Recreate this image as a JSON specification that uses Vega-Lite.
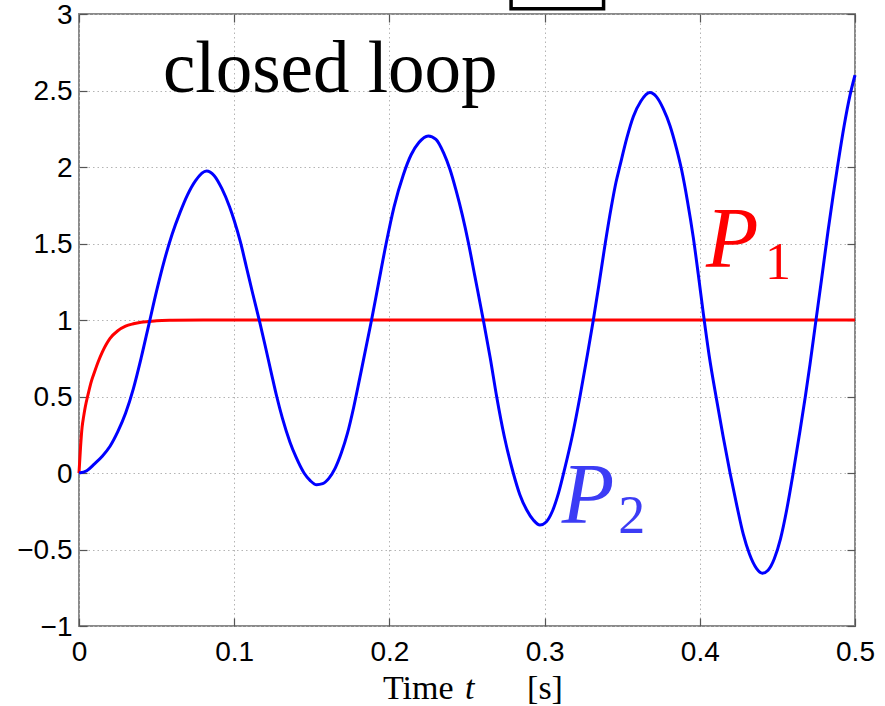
{
  "$schema": "https://vega.github.io/schema/vega-lite/v6.json",
  "width": 776,
  "height": 612,
  "autosize": "none",
  "padding": {"left": 79, "top": 14, "right": 30, "bottom": 80},
  "background": "white",
  "config": {
    "view": {"stroke": "#8a8a8a", "strokeWidth": 2},
    "axis": {
      "labelFont": "Liberation Sans",
      "labelFontSize": 28,
      "labelColor": "black",
      "tickColor": "#555555",
      "tickWidth": 1.2,
      "tickSize": -8,
      "domain": false,
      "labelFlush": false,
      "labelOverlap": false,
      "gridColor": "#b4b4b4",
      "gridDash": [1.5, 3],
      "gridWidth": 1,
      "title": null
    }
  },
  "datasets": {
    "p1": [
      {"t": 0, "v": 0}, {"t": 0.001, "v": 0.17}, {"t": 0.002, "v": 0.3}, {"t": 0.003, "v": 0.37},
      {"t": 0.004, "v": 0.43}, {"t": 0.006, "v": 0.52}, {"t": 0.008, "v": 0.6}, {"t": 0.01, "v": 0.66},
      {"t": 0.0125, "v": 0.73}, {"t": 0.015, "v": 0.79}, {"t": 0.0175, "v": 0.84}, {"t": 0.02, "v": 0.88},
      {"t": 0.025, "v": 0.93}, {"t": 0.03, "v": 0.96}, {"t": 0.035, "v": 0.975}, {"t": 0.04, "v": 0.985},
      {"t": 0.045, "v": 0.99}, {"t": 0.05, "v": 0.995}, {"t": 0.06, "v": 0.998}, {"t": 0.08, "v": 1},
      {"t": 0.5, "v": 1}
    ],
    "p2": [
      {"t": 0, "v": 0}, {"t": 0.005, "v": 0.015}, {"t": 0.01, "v": 0.06}, {"t": 0.015, "v": 0.11},
      {"t": 0.02, "v": 0.175}, {"t": 0.025, "v": 0.27}, {"t": 0.03, "v": 0.39}, {"t": 0.035, "v": 0.55},
      {"t": 0.04, "v": 0.75}, {"t": 0.045, "v": 0.97}, {"t": 0.05, "v": 1.19}, {"t": 0.055, "v": 1.39},
      {"t": 0.06, "v": 1.56}, {"t": 0.065, "v": 1.7}, {"t": 0.07, "v": 1.82}, {"t": 0.075, "v": 1.91},
      {"t": 0.0822, "v": 1.974},
      {"t": 0.087, "v": 1.945}, {"t": 0.092, "v": 1.86}, {"t": 0.097, "v": 1.74}, {"t": 0.1, "v": 1.65},
      {"t": 0.104, "v": 1.51}, {"t": 0.108, "v": 1.34}, {"t": 0.112, "v": 1.17}, {"t": 0.1166, "v": 0.98},
      {"t": 0.12, "v": 0.83}, {"t": 0.124, "v": 0.65}, {"t": 0.1274, "v": 0.5}, {"t": 0.131, "v": 0.36},
      {"t": 0.136, "v": 0.2}, {"t": 0.14, "v": 0.1}, {"t": 0.145, "v": 0.0}, {"t": 0.149, "v": -0.05},
      {"t": 0.1531, "v": -0.077},
      {"t": 0.157, "v": -0.07}, {"t": 0.161, "v": -0.035}, {"t": 0.165, "v": 0.03}, {"t": 0.169, "v": 0.13},
      {"t": 0.173, "v": 0.26}, {"t": 0.177, "v": 0.43}, {"t": 0.181, "v": 0.625}, {"t": 0.1885, "v": 1.0},
      {"t": 0.193, "v": 1.24}, {"t": 0.198, "v": 1.505}, {"t": 0.203, "v": 1.74}, {"t": 0.209, "v": 1.95},
      {"t": 0.214, "v": 2.08}, {"t": 0.219, "v": 2.16}, {"t": 0.225, "v": 2.203},
      {"t": 0.23, "v": 2.18}, {"t": 0.235, "v": 2.09}, {"t": 0.239, "v": 1.985}, {"t": 0.243, "v": 1.845},
      {"t": 0.247, "v": 1.685}, {"t": 0.2509, "v": 1.505}, {"t": 0.255, "v": 1.29}, {"t": 0.2605, "v": 1.0},
      {"t": 0.265, "v": 0.75}, {"t": 0.2691, "v": 0.5}, {"t": 0.274, "v": 0.24}, {"t": 0.2798, "v": 0.0},
      {"t": 0.284, "v": -0.14}, {"t": 0.2884, "v": -0.24}, {"t": 0.293, "v": -0.31}, {"t": 0.297, "v": -0.34},
      {"t": 0.301, "v": -0.32}, {"t": 0.305, "v": -0.25}, {"t": 0.309, "v": -0.13}, {"t": 0.313, "v": 0.03},
      {"t": 0.318, "v": 0.25}, {"t": 0.3228, "v": 0.5}, {"t": 0.327, "v": 0.74}, {"t": 0.3314, "v": 1.0},
      {"t": 0.335, "v": 1.23}, {"t": 0.3389, "v": 1.49}, {"t": 0.343, "v": 1.74}, {"t": 0.346, "v": 1.9},
      {"t": 0.3486, "v": 2.01}, {"t": 0.353, "v": 2.19}, {"t": 0.3572, "v": 2.33}, {"t": 0.362, "v": 2.43},
      {"t": 0.3679, "v": 2.487},
      {"t": 0.372, "v": 2.46}, {"t": 0.3765, "v": 2.38}, {"t": 0.3808, "v": 2.27}, {"t": 0.385, "v": 2.12},
      {"t": 0.3883, "v": 1.98}, {"t": 0.392, "v": 1.78}, {"t": 0.3958, "v": 1.54}, {"t": 0.399, "v": 1.3},
      {"t": 0.4023, "v": 1.04}, {"t": 0.406, "v": 0.77}, {"t": 0.4108, "v": 0.48}, {"t": 0.415, "v": 0.24},
      {"t": 0.4195, "v": 0.0}, {"t": 0.424, "v": -0.22}, {"t": 0.428, "v": -0.4}, {"t": 0.432, "v": -0.53},
      {"t": 0.4366, "v": -0.625}, {"t": 0.4403, "v": -0.655},
      {"t": 0.444, "v": -0.635}, {"t": 0.448, "v": -0.56}, {"t": 0.452, "v": -0.43}, {"t": 0.456, "v": -0.24},
      {"t": 0.46, "v": -0.01}, {"t": 0.464, "v": 0.24}, {"t": 0.468, "v": 0.5}, {"t": 0.471, "v": 0.71},
      {"t": 0.4742, "v": 0.95}, {"t": 0.4785, "v": 1.27}, {"t": 0.4826, "v": 1.58}, {"t": 0.486, "v": 1.82},
      {"t": 0.489, "v": 2.02}, {"t": 0.493, "v": 2.27}, {"t": 0.4968, "v": 2.47}, {"t": 0.5, "v": 2.6}
    ]
  },
  "resolve": {"axis": {"x": "independent", "y": "independent"}},
  "layer": [
    {
      "data": {"name": "p1"},
      "mark": {"type": "line", "color": "#ff0000", "strokeWidth": 3, "interpolate": "monotone"},
      "encoding": {
        "x": {"field": "t", "type": "quantitative", "scale": {"domain": [0, 0.5], "nice": false, "zero": false},
              "axis": {"orient": "bottom", "values": [0, 0.1, 0.2, 0.3, 0.4, 0.5], "format": "~g", "grid": true, "labelPadding": 20}},
        "y": {"field": "v", "type": "quantitative", "scale": {"domain": [-1, 3], "nice": false, "zero": false},
              "axis": {"orient": "left", "values": [-1, -0.5, 0, 0.5, 1, 1.5, 2, 2.5, 3], "format": "~g", "grid": true, "labelPadding": 15, "labelOffset": 1}}
      }
    },
    {
      "data": {"name": "p2"},
      "mark": {"type": "line", "color": "#0000ff", "strokeWidth": 3, "interpolate": "monotone"},
      "encoding": {
        "x": {"field": "t", "type": "quantitative", "scale": {"domain": [0, 0.5], "nice": false, "zero": false},
              "axis": {"orient": "top", "values": [0, 0.1, 0.2, 0.3, 0.4, 0.5], "labels": false, "grid": false}},
        "y": {"field": "v", "type": "quantitative", "scale": {"domain": [-1, 3], "nice": false, "zero": false},
              "axis": {"orient": "right", "values": [-1, -0.5, 0, 0.5, 1, 1.5, 2, 2.5, 3], "labels": false, "grid": false}}
      }
    },
    {
      "data": {"values": [{"t": 0.2784, "t2": 0.338, "v": 3.035, "v2": 3.25}]},
      "mark": {"type": "rect", "fill": "white", "fillOpacity": 0, "stroke": "black", "strokeWidth": 3.5},
      "encoding": {
        "x": {"field": "t", "type": "quantitative", "scale": {"domain": [0, 0.5], "nice": false, "zero": false}, "axis": null},
        "x2": {"field": "t2"},
        "y": {"field": "v", "type": "quantitative", "scale": {"domain": [-1, 3], "nice": false, "zero": false}, "axis": null},
        "y2": {"field": "v2"}
      }
    },
    {
      "data": {"values": [{"t": 0.0541, "v": 2.492, "label": "closed loop"}]},
      "mark": {"type": "text", "font": "Liberation Serif", "fontSize": 73, "align": "left", "baseline": "alphabetic", "color": "black"},
      "encoding": {
        "x": {"field": "t", "type": "quantitative", "scale": {"domain": [0, 0.5], "nice": false, "zero": false}, "axis": null},
        "y": {"field": "v", "type": "quantitative", "scale": {"domain": [-1, 3], "nice": false, "zero": false}, "axis": null},
        "text": {"field": "label"}
      }
    },
    {
      "data": {"values": [{"t": 0.404, "v": 1.348, "label": "P"}]},
      "mark": {"type": "text", "font": "Liberation Serif", "fontStyle": "italic", "fontSize": 86, "align": "left", "baseline": "alphabetic", "color": "#ff0000"},
      "encoding": {
        "x": {"field": "t", "type": "quantitative", "scale": {"domain": [0, 0.5], "nice": false, "zero": false}, "axis": null},
        "y": {"field": "v", "type": "quantitative", "scale": {"domain": [-1, 3], "nice": false, "zero": false}, "axis": null},
        "text": {"field": "label"}
      }
    },
    {
      "data": {"values": [{"t": 0.442, "v": 1.268, "label": "1"}]},
      "mark": {"type": "text", "font": "Liberation Serif", "fontSize": 52, "align": "left", "baseline": "alphabetic", "color": "#ff0000"},
      "encoding": {
        "x": {"field": "t", "type": "quantitative", "scale": {"domain": [0, 0.5], "nice": false, "zero": false}, "axis": null},
        "y": {"field": "v", "type": "quantitative", "scale": {"domain": [-1, 3], "nice": false, "zero": false}, "axis": null},
        "text": {"field": "label"}
      }
    },
    {
      "data": {"values": [{"t": 0.311, "v": -0.329, "label": "P"}]},
      "mark": {"type": "text", "font": "Liberation Serif", "fontStyle": "italic", "fontSize": 86, "align": "left", "baseline": "alphabetic", "color": "#3c3cf5"},
      "encoding": {
        "x": {"field": "t", "type": "quantitative", "scale": {"domain": [0, 0.5], "nice": false, "zero": false}, "axis": null},
        "y": {"field": "v", "type": "quantitative", "scale": {"domain": [-1, 3], "nice": false, "zero": false}, "axis": null},
        "text": {"field": "label"}
      }
    },
    {
      "data": {"values": [{"t": 0.3475, "v": -0.392, "label": "2"}]},
      "mark": {"type": "text", "font": "Liberation Serif", "fontSize": 54, "align": "left", "baseline": "alphabetic", "color": "#3c3cf5"},
      "encoding": {
        "x": {"field": "t", "type": "quantitative", "scale": {"domain": [0, 0.5], "nice": false, "zero": false}, "axis": null},
        "y": {"field": "v", "type": "quantitative", "scale": {"domain": [-1, 3], "nice": false, "zero": false}, "axis": null},
        "text": {"field": "label"}
      }
    },
    {
      "data": {"values": [{"t": 0.1959, "v": -1.477, "label": "Time"}, {"t": 0.2887, "v": -1.477, "label": "[s]"}]},
      "mark": {"type": "text", "font": "Liberation Serif", "fontSize": 34, "align": "left", "baseline": "alphabetic", "color": "black"},
      "encoding": {
        "x": {"field": "t", "type": "quantitative", "scale": {"domain": [0, 0.5], "nice": false, "zero": false}, "axis": null},
        "y": {"field": "v", "type": "quantitative", "scale": {"domain": [-1, 3], "nice": false, "zero": false}, "axis": null},
        "text": {"field": "label"}
      }
    },
    {
      "data": {"values": [{"t": 0.2487, "v": -1.477, "label": "t"}]},
      "mark": {"type": "text", "font": "Liberation Serif", "fontStyle": "italic", "fontSize": 34, "align": "left", "baseline": "alphabetic", "color": "black"},
      "encoding": {
        "x": {"field": "t", "type": "quantitative", "scale": {"domain": [0, 0.5], "nice": false, "zero": false}, "axis": null},
        "y": {"field": "v", "type": "quantitative", "scale": {"domain": [-1, 3], "nice": false, "zero": false}, "axis": null},
        "text": {"field": "label"}
      }
    }
  ]
}
